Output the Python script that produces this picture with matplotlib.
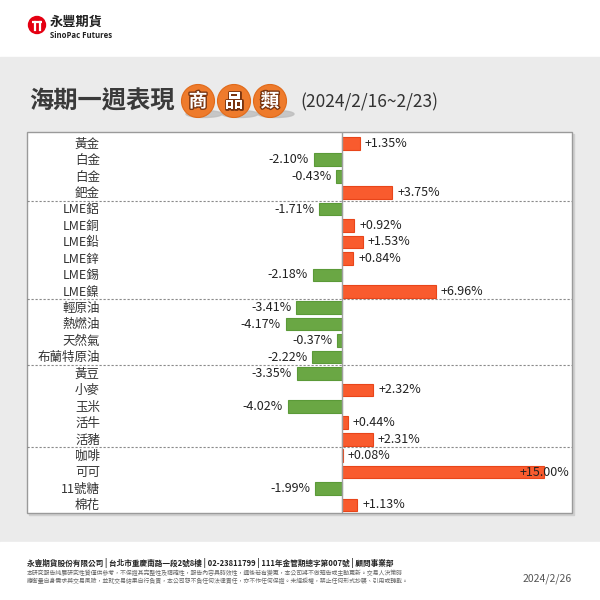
import matplotlib
matplotlib.use("Agg")
import matplotlib.pyplot as plt
from matplotlib.patches import Rectangle, Circle, Ellipse
import matplotlib.patheffects as pe
import matplotlib.transforms as mtransforms

plt.rcParams['font.family'] = ['Noto Sans CJK TC', 'DejaVu Sans']

# ---------------- data ----------------
categories = ["黃金", "白金", "白金", "鈀金",
              "LME鋁", "LME銅", "LME鉛", "LME鋅", "LME錫", "LME鎳",
              "輕原油", "熱燃油", "天然氣", "布蘭特原油",
              "黃豆", "小麥", "玉米", "活牛", "活豬",
              "咖啡", "可可", "11號糖", "棉花"]
changes = [1.35, -2.10, -0.43, 3.75,
           -1.71, 0.92, 1.53, 0.84, -2.18, 6.96,
           -3.41, -4.17, -0.37, -2.22,
           -3.35, 2.32, -4.02, 0.44, 2.31,
           0.08, 15.00, -1.99, 1.13]
group_sizes = [4, 6, 4, 5, 4]

title = "海期一週表現"
badge = ["商", "品", "類"]
period = "(2024/2/16~2/23)"
footer_main = "永豐期貨股份有限公司 | 台北市重慶南路一段2號8樓 | 02-23811799 | 111年金管期總字第007號 | 顧問事業部"
footer_l1 = "本研究報告純屬研究性質僅供參考，不保證其完整性及精確性，報告內容具時效性，週後若有變更，本公司將不做預告或主動更新。交易人決策時"
footer_l2 = "應衡量自身需求與交易風險，並就交易結果自行負責，本公司恕不負任何法律責任，亦不作任何保證。未經授權，禁止任何形式抄襲、引用或轉載。"
report_date = "2024/2/26"

# ---------------- figure ----------------
W = H = 600
fig = plt.figure(figsize=(6, 6), dpi=100)
bg = fig.add_axes([0, 0, 1, 1])
bg.set_xlim(0, W)
bg.set_ylim(H, 0)
bg.axis("off")

bg.add_patch(Rectangle((0, 0), W, 57, color="white", zorder=0))
bg.add_patch(Rectangle((0, 57), W, 485, color="#ebebeb", zorder=0))
bg.add_patch(Rectangle((0, 542), W, 58, color="white", zorder=0))

# logo
bg.add_patch(Circle((37, 25), 8.5, color="#e50012", zorder=2))
bg.plot([32, 42], [21.5, 21.5], color="white", lw=1.6, zorder=3, solid_capstyle="butt")
bg.plot([34.5, 34.5], [21.5, 30], color="white", lw=1.6, zorder=3)
bg.plot([39.5, 39.5], [21.5, 30], color="white", lw=1.6, zorder=3)
bg.text(50, 22, "永豐期貨", fontsize=9.5, fontweight="bold", color="#222", va="center", ha="left")
bg.text(50, 35, "SinoPac Futures", fontsize=5.6, fontweight="bold", color="#222",
        va="center", ha="left", family=["Open Sans", "DejaVu Sans"])

# title
bg.text(29, 101, title, fontsize=17.5, fontweight="bold", color="#3a3a3a", va="center", ha="left")
for i, ch in enumerate(badge):
    cx = 198 + i * 36
    bg.add_patch(Ellipse((cx + 6, 114), 36, 7, color="#bdbdbd", alpha=0.8, zorder=1))
    bg.add_patch(Circle((cx, 101), 16.5, color="#ee7b2c", ec="#e06a1a", lw=0.8, zorder=2))
    bg.text(cx, 101.5, ch, fontsize=13.5, fontweight="bold", color="white", ha="center",
            va="center", zorder=3,
            path_effects=[pe.withStroke(linewidth=2, foreground="#7a3510")])
bg.text(300, 102, period, fontsize=12.5, color="#333", va="center", ha="left")

# panel
px0, px1, py0, py1 = 27, 572, 132, 513
bg.add_patch(Rectangle((px0 + 1.5, py0 + 1.5), px1 - px0, py1 - py0, color="#cfcfcf", zorder=1))
bg.add_patch(Rectangle((px0, py0), px1 - px0, py1 - py0, fc="white", ec="#9a9a9a", lw=1, zorder=1.5))

# footer
bg.text(27, 563, footer_main, fontsize=5.5, fontweight="bold", color="#222", va="center", ha="left")
bg.text(27, 573, footer_l1, fontsize=4.25, color="#666", va="center", ha="left")
bg.text(27, 580.5, footer_l2, fontsize=4.25, color="#666", va="center", ha="left")
bg.text(572, 579, report_date, fontsize=7.5, color="#555", va="center", ha="right")

# ---------------- chart ----------------
ax = fig.add_axes([px0 / W, 1 - py1 / H, (px1 - px0) / W, (py1 - py0) / H])
ax.patch.set_alpha(0)
xmin, xmax = -23.39, 17.08
ax.set_xlim(xmin, xmax)
n = len(categories)
ax.set_ylim(n - 1 + 0.49, -0.69)
for s in ax.spines.values():
    s.set_visible(False)
ax.set_xticks([])
ax.set_yticks([])

ypos = list(range(n))
cols = ["#f95b2e" if v >= 0 else "#6aa744" for v in changes]
ecs = ["#e8451a" if v >= 0 else "#5b9a38" for v in changes]
ax.barh(ypos, changes, height=0.77, color=cols, edgecolor=ecs, linewidth=0.8, zorder=2)
ax.axvline(0, color="#a0a0a0", lw=1, zorder=3)

# group separators
b = 0
for g in group_sizes[:-1]:
    b += g
    ax.axhline(b - 0.5, color="#8a8a8a", lw=0.8, ls=(0, (2, 1.6)), zorder=1)

lab_tr = mtransforms.blended_transform_factory(ax.transAxes, ax.transData)
lab_x = (100 - px0) / (px1 - px0)
for y, c in zip(ypos, categories):
    ax.text(lab_x, y + 0.05, c, transform=lab_tr, ha="right", va="center", fontsize=9, color="#333")

for y, v in zip(ypos, changes):
    txt = f"{v:+.2f}%"
    if v >= 0:
        if v > xmax - 3:
            ax.annotate(txt, (xmax, y), xytext=(-2, 0), textcoords="offset points",
                        ha="right", va="center", fontsize=9, color="#222", zorder=4)
        else:
            ax.annotate(txt, (v, y), xytext=(3.5, 0), textcoords="offset points",
                        ha="left", va="center", fontsize=9, color="#222", zorder=4)
    else:
        ax.annotate(txt, (v, y), xytext=(-3.5, 0), textcoords="offset points",
                    ha="right", va="center", fontsize=9, color="#222", zorder=4)

fig.savefig("out.png", dpi=100)
